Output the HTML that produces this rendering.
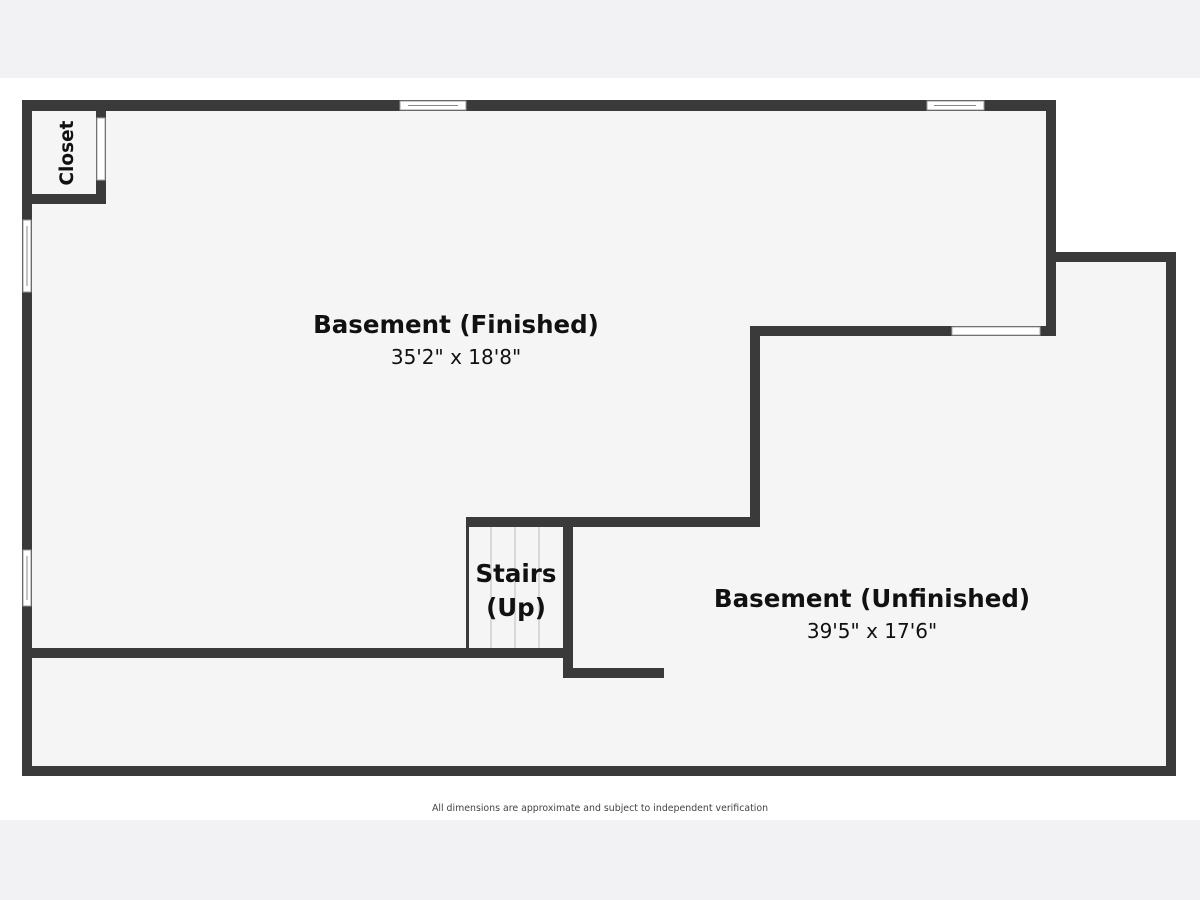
<!DOCTYPE html>
<html><head><meta charset="utf-8"><style>
html,body{margin:0;padding:0;width:1200px;height:900px;overflow:hidden;background:#fff}
text{font-family:"DejaVu Sans","Liberation Sans",sans-serif}
</style></head><body>
<svg width="1200" height="900" viewBox="0 0 1200 900" xmlns="http://www.w3.org/2000/svg">
<rect x="0" y="0" width="1200" height="78" fill="#f2f2f4"/>
<rect x="0" y="820" width="1200" height="80" fill="#f2f2f4"/>
<polygon points="22,100 1056,100 1056,252 1176,252 1176,776 22,776" fill="#f5f5f5"/>
<g fill="#3a3a3a">
<rect x="22" y="100" width="1034" height="11"/>
<rect x="22" y="100" width="10" height="676"/>
<rect x="22" y="766" width="1154" height="10"/>
<rect x="1166" y="252" width="10" height="524"/>
<rect x="1046" y="252" width="130" height="10"/>
<rect x="1046" y="100" width="10" height="236"/>
<rect x="750" y="326" width="306" height="10"/>
<rect x="750" y="326" width="10" height="201"/>
<rect x="466" y="517" width="294" height="10"/>
<rect x="466" y="517" width="3" height="135"/>
<rect x="563" y="517" width="10" height="161"/>
<rect x="563" y="668" width="101" height="10"/>
<rect x="22" y="648" width="551" height="10"/>
<rect x="22" y="194" width="84" height="10"/>
<rect x="96" y="111" width="10" height="93"/>
</g>
<g stroke="#bbb" stroke-width="1">
<line x1="491" y1="527" x2="491" y2="648"/>
<line x1="515" y1="527" x2="515" y2="648"/>
<line x1="539" y1="527" x2="539" y2="648"/>
</g>
<rect x="952" y="327" width="88" height="8" fill="#fff" stroke="#aaa" stroke-width="1"/>
<rect x="97" y="118" width="8" height="62" fill="#fff" stroke="#aaa" stroke-width="1"/>
<g fill="#fff" stroke="#999" stroke-width="1">
<rect x="400" y="101" width="66" height="9"/>
<rect x="927" y="101" width="57" height="9"/>
<rect x="23" y="220" width="8" height="72"/>
<rect x="23" y="550" width="8" height="56"/>
</g>
<g stroke="#888" stroke-width="1">
<line x1="408" y1="105.5" x2="458" y2="105.5"/>
<line x1="934" y1="105.5" x2="976" y2="105.5"/>
<line x1="27" y1="226" x2="27" y2="286"/>
<line x1="27" y1="556" x2="27" y2="600"/>
</g>
<text x="68" y="153" transform="rotate(-90 68 153)" text-anchor="middle" dominant-baseline="middle" font-size="18.5" font-weight="bold" fill="#111">Closet</text>
<text x="456" y="333" text-anchor="middle" font-size="24.5" font-weight="bold" fill="#111">Basement (Finished)</text>
<text x="456" y="364" text-anchor="middle" font-size="20" fill="#111">35'2" x 18'8"</text>
<text x="516" y="582" text-anchor="middle" font-size="24.5" font-weight="bold" fill="#111">Stairs</text>
<text x="516" y="616" text-anchor="middle" font-size="24.5" font-weight="bold" fill="#111">(Up)</text>
<text x="872" y="607" text-anchor="middle" font-size="24.5" font-weight="bold" fill="#111">Basement (Unfinished)</text>
<text x="872" y="638" text-anchor="middle" font-size="20" fill="#111">39'5" x 17'6"</text>
<text x="600" y="811" text-anchor="middle" font-size="9.4" fill="#444">All dimensions are approximate and subject to independent verification</text>
</svg>
</body></html>
